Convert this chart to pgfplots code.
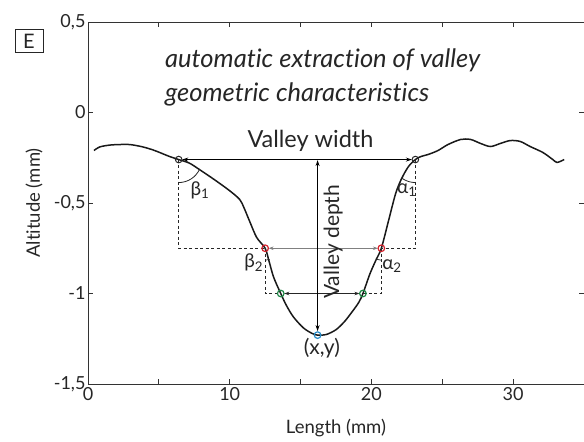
\documentclass[border=0pt]{standalone}
\usepackage{fontspec}
\setmainfont{Lato}[Ligatures=NoCommon]
\usepackage{pgfplots}
\pgfplotsset{compat=1.18}
\usetikzlibrary{arrows.meta}
\definecolor{ptred}{RGB}{212,34,44}
\definecolor{ptgreen}{RGB}{30,135,70}
\definecolor{ptblue}{RGB}{40,140,200}
\begin{document}
\begin{tikzpicture}
\begin{axis}[
  name=ax,
  scale only axis, width=496pt, height=362pt,
  xmin=0, xmax=35, ymin=-1.5, ymax=0.5,
  xtick={0,5,...,35}, xticklabels={0,,10,,20,,30,,},
  ytick={-1.5,-1,-0.5,0,0.5}, yticklabels={{-1,5},-1,{-0,5},0,{0,5}},
  tick align=inside, major tick length=5pt,
  axis line style={line width=0.9pt, black!80},
  tick style={black!80, line width=0.8pt},
  ticklabel style={font=\fontsize{18}{18}\selectfont, text=black!85},
  yticklabel style={xshift=1pt},
  xlabel={Length (mm)}, ylabel={Altitude (mm)},
  label style={font=\fontsize{18.5}{18.5}\selectfont, text=black!85},
  xlabel style={at={(axis description cs:0.5,-0.1215)}, anchor=center},
  ylabel style={at={(axis description cs:-0.109,0.5)}, anchor=center},
  clip=false,
]
% profile
\addplot[line width=1.5pt, black!90, smooth, tension=0.5] coordinates {
(0.42,-0.21) (0.84,-0.19) (1.54,-0.18) (2.25,-0.177) (2.95,-0.177) (3.86,-0.19)
(4.7,-0.21) (5.75,-0.243) (6.4,-0.26) (7.16,-0.28) (7.86,-0.315) (8.9,-0.37)
(9.96,-0.43) (10.7,-0.48) (11.0,-0.525) (11.4,-0.60) (11.9,-0.69) (12.5,-0.75)
(12.77,-0.82) (13.1,-0.91) (13.6,-1.0) (14.0,-1.066) (14.5,-1.13) (15.2,-1.19)
(15.8,-1.22) (16.2,-1.23) (16.8,-1.227) (17.5,-1.20) (18.1,-1.155) (18.6,-1.105)
(19.1,-1.05) (19.4,-1.0) (19.9,-0.89) (20.35,-0.81) (20.7,-0.75) (21.2,-0.60)
(21.7,-0.45) (22.1,-0.37) (22.6,-0.30) (23.1,-0.26) (23.5,-0.243) (24.0,-0.232)
(24.7,-0.21) (25.4,-0.177) (26.3,-0.149) (27.0,-0.149) (27.7,-0.171) (28.4,-0.188)
(29.1,-0.171) (29.8,-0.155) (30.5,-0.16) (31.2,-0.188) (32.1,-0.221) (32.8,-0.26)
(33.1,-0.276) (33.6,-0.26)
};
% dashed construction lines
\addplot[black!85, line width=0.8pt, dash pattern=on 3pt off 2.5pt] coordinates {(6.4,-0.26) (6.4,-0.75) (12.5,-0.75)};
\addplot[black!85, line width=0.8pt, dash pattern=on 3pt off 2.5pt] coordinates {(23.1,-0.26) (23.1,-0.75) (20.7,-0.75)};
\addplot[black!85, line width=0.8pt, dash pattern=on 3pt off 2.5pt] coordinates {(12.5,-0.75) (12.5,-1.0) (13.6,-1.0)};
\addplot[black!85, line width=0.8pt, dash pattern=on 3pt off 2.5pt] coordinates {(20.7,-0.75) (20.7,-1.0) (19.4,-1.0)};
% arrows
\addplot[black, line width=1.1pt, {Stealth[length=6pt,width=4pt]}-{Stealth[length=6pt,width=4pt]}, shorten <=3.5pt, shorten >=3.5pt] coordinates {(6.4,-0.26) (23.1,-0.26)};
\addplot[black!50, line width=0.6pt, {Stealth[length=5pt,width=3.5pt]}-{Stealth[length=5pt,width=3.5pt]}, shorten <=3.5pt, shorten >=3.5pt] coordinates {(12.5,-0.75) (20.7,-0.75)};
\addplot[black!85, line width=0.7pt, {Stealth[length=5pt,width=3.5pt]}-{Stealth[length=5pt,width=3.5pt]}, shorten <=3.5pt, shorten >=3.5pt] coordinates {(13.6,-1.0) (19.4,-1.0)};
\addplot[black, line width=1pt, {Stealth[length=6pt,width=4pt]}-{Stealth[length=6pt,width=4pt]}, shorten <=0.5pt, shorten >=4pt] coordinates {(16.2,-0.26) (16.2,-1.23)};
% angle arcs
\draw[black!85, line width=0.8pt] (axis cs:6.4,-0.26) ++(270:23pt) arc[start angle=270, end angle=336, radius=23pt];
\draw[black!85, line width=0.8pt] (axis cs:23.1,-0.26) ++(235:23pt) arc[start angle=235, end angle=270, radius=23pt];
\draw[black!85, line width=0.7pt] (axis cs:12.5,-0.75) ++(270:12pt) arc[start angle=270, end angle=292, radius=12pt];
\draw[black!85, line width=0.7pt] (axis cs:20.7,-0.75) ++(246:12pt) arc[start angle=246, end angle=270, radius=12pt];
% points
\addplot[only marks, mark=o, mark size=3.3pt, mark options={draw=black!85, fill=white, line width=1pt}] coordinates {(6.4,-0.26) (23.1,-0.26)};
\addplot[only marks, mark=o, mark size=3.3pt, mark options={draw=ptred, fill=white, line width=1.2pt}] coordinates {(12.5,-0.75) (20.7,-0.75)};
\addplot[only marks, mark=o, mark size=3.3pt, mark options={draw=ptgreen, fill=white, line width=1.2pt}] coordinates {(13.6,-1.0) (19.4,-1.0)};
\addplot[only marks, mark=o, mark size=3.3pt, mark options={draw=ptblue, fill=white, line width=1.2pt}] coordinates {(16.2,-1.23)};
% labels
\node[font=\fontsize{23.5}{23.5}\selectfont, text=black!85, anchor=base] at (axis cs:15.7,-0.196) {Valley width};
\node[font=\fontsize{21}{21}\selectfont, text=black!85, rotate=90] at (axis cs:17.3,-0.715) {Valley depth};
\node[font=\fontsize{19}{19}\selectfont, text=black!85] at (axis cs:7.9,-0.428) {β\textsubscript{1}};
\node[font=\fontsize{19}{19}\selectfont, text=black!85] at (axis cs:22.5,-0.428) {α\textsubscript{1}};
\node[font=\fontsize{19}{19}\selectfont, text=black!85] at (axis cs:11.7,-0.831) {β\textsubscript{2}};
\node[font=\fontsize{19}{19}\selectfont, text=black!85] at (axis cs:21.45,-0.848) {α\textsubscript{2}};
\node[font=\fontsize{21}{21}\selectfont, text=black!85] at (axis cs:16.5,-1.30) {(x,y)};
\node[font=\itshape\fontsize{25.5}{25.5}\selectfont, text=black!85, anchor=base west, inner sep=0pt] at (axis cs:5.43,0.2459) {automatic extraction of valley};
\node[font=\itshape\fontsize{25.5}{25.5}\selectfont, text=black!85, anchor=base west, inner sep=0pt] at (axis cs:5.43,0.058) {geometric characteristics};
\node[draw=black!85, line width=0.8pt, minimum width=28pt, minimum height=23pt, inner sep=0pt, font=\fontsize{20}{20}\selectfont, text=black!85] at (rel axis cs:-0.119,0.9475) {E};
\end{axis}
\pgfresetboundingbox
\path[use as bounding box] ([shift={(-88pt,-57pt)}]ax.south west) rectangle ([shift={(0pt,22pt)}]ax.north east);
\end{tikzpicture}
\end{document}
